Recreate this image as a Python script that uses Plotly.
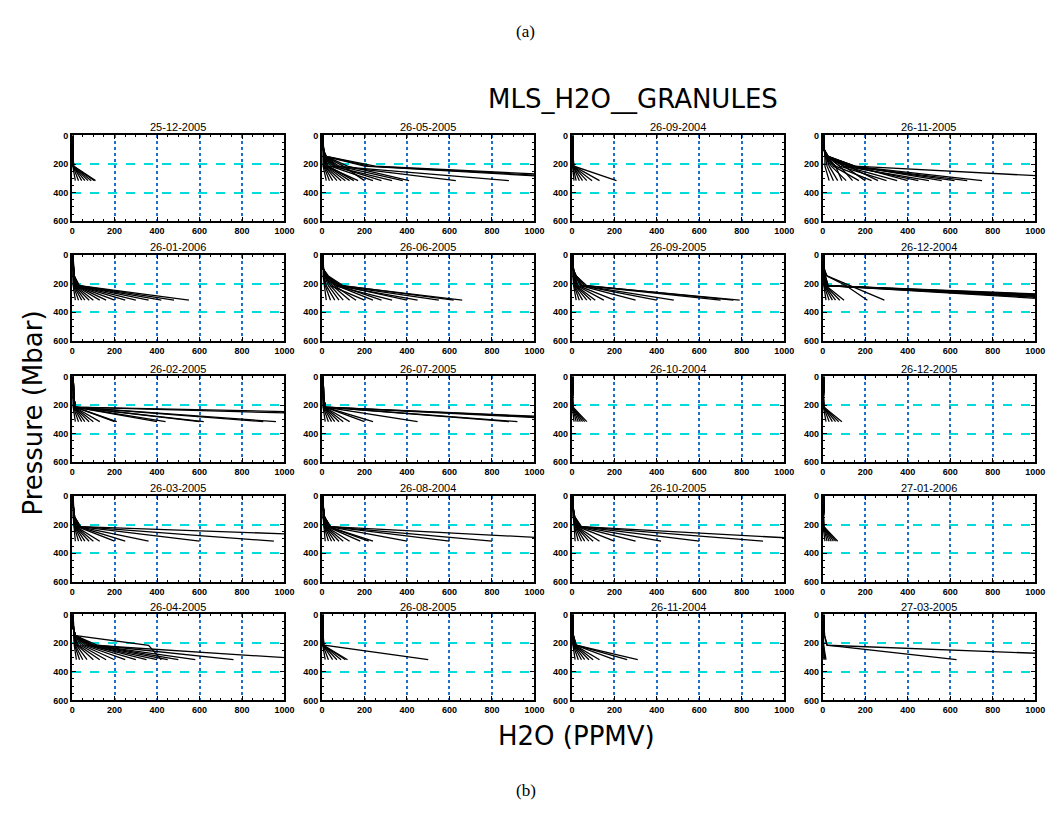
import plotly.graph_objects as go

W, H = 1058, 818

DATES = ["25-12-2005", "26-05-2005", "26-09-2004", "26-11-2005",
         "26-01-2006", "26-06-2005", "26-09-2005", "26-12-2004",
         "26-02-2005", "26-07-2005", "26-10-2004", "26-12-2005",
         "26-03-2005", "26-08-2004", "26-10-2005", "27-01-2006",
         "26-04-2005", "26-08-2005", "26-11-2004", "27-03-2005"]

# pressure levels (mbar) for each profile point
P_LOW = [316, 215, 147]
UPPER_P = [100, 68, 46, 22, 10, 5, 1]
UPPER_H2O = [6, 5, 5, 5, 5, 5, 5]

X_TICKS = [0, 200, 400, 600, 800, 1000]
Y_TICKS = [0, 200, 400, 600]

# H2O (ppmv) at 316, 215 and 147 mbar for each profile of each granule
H316_01 = [15, 30, 45, 60, 75, 90, 105, 110]
H215_01 = [3, 4, 5, 5, 6, 6, 7, 8]
H147_01 = [2, 3, 3, 4, 3, 4, 3, 4]

H316_02 = [20, 35, 50, 70, 90, 110, 130, 150, 170, 200, 240, 280, 330, 380, 410, 630, 880, 1400, 1500, 1650]
H215_02 = [5, 8, 10, 12, 15, 20, 25, 30, 20, 100, 40, 60, 50, 80, 120, 70, 60, 200, 220, 250]
H147_02 = [5, 6, 8, 8, 10, 10, 12, 12, 10, 15, 12, 15, 12, 15, 20, 15, 15, 15, 20, 20]

H316_03 = [10, 20, 35, 50, 70, 95, 130, 210]
H215_03 = [3, 4, 5, 5, 6, 6, 8, 10]
H147_03 = [3, 3, 3, 3, 4, 4, 4, 5]

H316_04 = [30, 50, 70, 90, 110, 140, 170, 200, 230, 260, 300, 350, 400, 450, 500, 560, 620, 680, 750, 1450]
H215_04 = [10, 20, 30, 60, 40, 80, 50, 100, 60, 120, 80, 100, 150, 120, 100, 150, 130, 120, 140, 150]
H147_04 = [10, 12, 15, 15, 12, 20, 15, 20, 15, 25, 20, 20, 25, 20, 20, 25, 20, 20, 25, 20]

H316_05 = [15, 30, 45, 60, 80, 100, 130, 160, 200, 250, 300, 360, 420, 480, 550]
H215_05 = [5, 6, 8, 10, 12, 14, 15, 18, 20, 22, 25, 28, 30, 32, 35]
H147_05 = [4, 5, 5, 6, 6, 7, 7, 8, 8, 9, 9, 10, 10, 10, 10]

H316_06 = [20, 40, 60, 80, 100, 130, 160, 200, 240, 280, 330, 400, 450, 550, 620, 660]
H215_06 = [10, 15, 20, 30, 40, 50, 60, 40, 70, 80, 60, 90, 70, 80, 100, 90]
H147_06 = [5, 8, 10, 12, 15, 15, 20, 15, 20, 25, 20, 25, 20, 25, 30, 25]

H316_07 = [20, 35, 50, 70, 90, 110, 150, 200, 300, 400, 480, 700, 760, 790]
H215_07 = [8, 10, 12, 15, 18, 20, 25, 30, 40, 45, 50, 60, 70, 60]
H147_07 = [5, 6, 8, 8, 10, 10, 12, 12, 15, 15, 15, 20, 20, 20]

H316_08 = [15, 30, 45, 60, 80, 100, 210, 290, 1150, 1250, 1350, 1450, 1550, 1650, 1750]
H215_08 = [5, 6, 8, 10, 12, 15, 110, 128, 20, 20, 25, 20, 25, 20, 20]
H147_08 = [5, 5, 6, 6, 8, 8, 20, 20, 10, 10, 12, 10, 12, 10, 10]

H316_09 = [15, 30, 45, 60, 80, 100, 130, 200, 210, 400, 440, 600, 620, 900, 960, 2500, 3300]
H215_09 = [5, 6, 8, 10, 10, 12, 12, 15, 15, 15, 15, 15, 15, 15, 15, 15, 15]
H147_09 = [5, 5, 5, 6, 6, 6, 7, 7, 8, 8, 8, 8, 8, 8, 8, 8, 8]

H316_10 = [15, 30, 45, 60, 80, 100, 130, 200, 240, 450, 880, 920, 1400, 1500, 1600]
H215_10 = [5, 6, 8, 10, 10, 12, 12, 15, 15, 15, 15, 15, 15, 15, 15]
H147_10 = [5, 5, 5, 6, 6, 6, 7, 7, 8, 8, 8, 8, 8, 8, 8]

H316_11 = [10, 20, 30, 40, 50, 60, 70]
H215_11 = [2, 3, 3, 4, 4, 5, 5]
H147_11 = [2, 2, 2, 3, 3, 3, 3]

H316_12 = [15, 30, 45, 60, 75, 90]
H215_12 = [3, 4, 5, 5, 6, 6]
H147_12 = [2, 2, 3, 3, 3, 3]

H316_13 = [15, 30, 45, 60, 80, 100, 130, 200, 250, 360, 600, 950, 2000]
H215_13 = [8, 10, 12, 14, 15, 18, 20, 25, 30, 30, 35, 40, 40]
H147_13 = [5, 6, 6, 7, 8, 8, 9, 10, 10, 10, 12, 12, 12]

H316_14 = [15, 30, 45, 60, 80, 100, 130, 180, 220, 240, 400, 600, 800, 1350]
H215_14 = [8, 10, 12, 14, 15, 18, 20, 25, 30, 30, 35, 40, 40, 40]
H147_14 = [5, 6, 6, 7, 8, 8, 9, 10, 10, 10, 12, 12, 12, 12]

H316_15 = [15, 30, 45, 60, 80, 100, 130, 200, 300, 420, 600, 900, 1300]
H215_15 = [10, 12, 15, 18, 20, 22, 25, 28, 30, 35, 40, 40, 45]
H147_15 = [6, 6, 7, 8, 8, 9, 10, 10, 12, 12, 12, 14, 14]

H316_16 = [10, 20, 30, 40, 50, 60, 70]
H215_16 = [2, 3, 3, 4, 4, 5, 5]
H147_16 = [2, 2, 2, 3, 3, 3, 3]

H316_17 = [20, 35, 50, 70, 100, 130, 160, 200, 250, 300, 350, 400, 450, 500, 580, 760, 1150, 420]
H215_17 = [10, 12, 15, 20, 25, 30, 40, 50, 60, 70, 80, 80, 90, 100, 100, 120, 100, 360]
H147_17 = [8, 8, 10, 10, 12, 12, 15, 15, 15, 15, 15, 15, 15, 15, 15, 15, 15, 10]

H316_18 = [15, 30, 50, 70, 90, 110, 120, 500]
H215_18 = [3, 4, 5, 5, 6, 6, 7, 10]
H147_18 = [2, 3, 3, 3, 4, 4, 4, 5]

H316_19 = [15, 30, 45, 60, 80, 100, 130, 200, 260, 310]
H215_19 = [5, 6, 8, 10, 12, 14, 15, 18, 20, 20]
H147_19 = [4, 4, 5, 5, 6, 6, 6, 7, 7, 7]

H316_20 = [5, 10, 15, 630, 1800]
H215_20 = [2, 3, 4, 20, 20]
H147_20 = [2, 2, 3, 8, 8]

PANELS = [
    (H316_01, H215_01, H147_01), (H316_02, H215_02, H147_02),
    (H316_03, H215_03, H147_03), (H316_04, H215_04, H147_04),
    (H316_05, H215_05, H147_05), (H316_06, H215_06, H147_06),
    (H316_07, H215_07, H147_07), (H316_08, H215_08, H147_08),
    (H316_09, H215_09, H147_09), (H316_10, H215_10, H147_10),
    (H316_11, H215_11, H147_11), (H316_12, H215_12, H147_12),
    (H316_13, H215_13, H147_13), (H316_14, H215_14, H147_14),
    (H316_15, H215_15, H147_15), (H316_16, H215_16, H147_16),
    (H316_17, H215_17, H147_17), (H316_18, H215_18, H147_18),
    (H316_19, H215_19, H147_19), (H316_20, H215_20, H147_20),
]

# layout in pixels
COL_X = [(70, 285), (323, 538), (576, 791), (830, 1045)]
ROW_Y = [(132, 219), (253, 340), (376, 463), (497, 584), (617, 704)]

fig = go.Figure()
annotations = []
tickfont = dict(family="Liberation Sans, Arial, sans-serif", size=9,
                color="black", weight="bold")

for i, (h316, h215, h147) in enumerate(PANELS):
    r, c = divmod(i, 4)
    xs = []
    ys = []
    for a, b, d in zip(h316, h215, h147):
        xs += [a, b, d] + UPPER_H2O + [None]
        ys += P_LOW + UPPER_P + [None]
    ax = "" if i == 0 else str(i + 1)
    fig.add_trace(go.Scatter(x=xs, y=ys, mode="lines",
                             line=dict(color="black", width=1.3),
                             xaxis="x" + ax, yaxis="y" + ax,
                             showlegend=False, hoverinfo="skip"))
    x0, x1 = COL_X[c]
    y0, y1 = ROW_Y[r]
    common = dict(showline=True, linecolor="black", linewidth=2,
                  mirror="allticks", ticks="inside", ticklen=4,
                  tickcolor="black", tickwidth=1, tickfont=tickfont,
                  zeroline=False, showgrid=True, gridwidth=1.5)
    fig.layout["xaxis" + ax] = dict(
        domain=[x0 / W, x1 / W], anchor="y" + ax, range=[0, 1000],
        tickvals=X_TICKS, gridcolor="#1f6fd0", griddash="dot",
        minor=dict(ticks="inside", ticklen=2, dtick=50, tickcolor="black",
                   showgrid=False),
        **common)
    fig.layout["yaxis" + ax] = dict(
        domain=[1 - y1 / H, 1 - y0 / H], anchor="x" + ax, range=[600, 0],
        tickvals=Y_TICKS, gridcolor="#00dcdc", griddash="dash",
        minor=dict(ticks="inside", ticklen=2, dtick=50, tickcolor="black",
                   showgrid=False),
        **common)
    annotations.append(dict(text=DATES[i], x=(x0 + x1) / 2 / W, y=1 - (y0 - 8) / H,
                            xref="paper", yref="paper", showarrow=False,
                            font=dict(family="Liberation Sans, Arial, sans-serif",
                                      size=11, color="black"),
                            xanchor="center", yanchor="middle"))

BIG = "DejaVu Sans, Liberation Sans, sans-serif"
annotations += [
    dict(text="(a)", x=529 / W, y=1 - 27 / H,
         font=dict(family="Liberation Serif, Times New Roman, serif", size=17, color="black")),
    dict(text="(b)", x=529 / W, y=1 - 795 / H,
         font=dict(family="Liberation Serif, Times New Roman, serif", size=17, color="black")),
    dict(text="MLS_H2O__GRANULES", x=638 / W, y=1 - 95 / H,
         font=dict(family=BIG, size=26, color="black")),
    dict(text="H2O (PPMV)", x=581 / W, y=1 - 740 / H,
         font=dict(family=BIG, size=26, color="black")),
    dict(text="Pressure (Mbar)", x=30 / W, y=1 - 413 / H, textangle=-90,
         font=dict(family=BIG, size=26, color="black")),
]
for a in annotations[-5:]:
    a.update(xref="paper", yref="paper", showarrow=False,
             xanchor="center", yanchor="middle")

fig.update_layout(width=W, height=H, margin=dict(l=0, r=0, t=0, b=0),
                  paper_bgcolor="white", plot_bgcolor="white",
                  annotations=annotations)

fig.write_html("out.html")
